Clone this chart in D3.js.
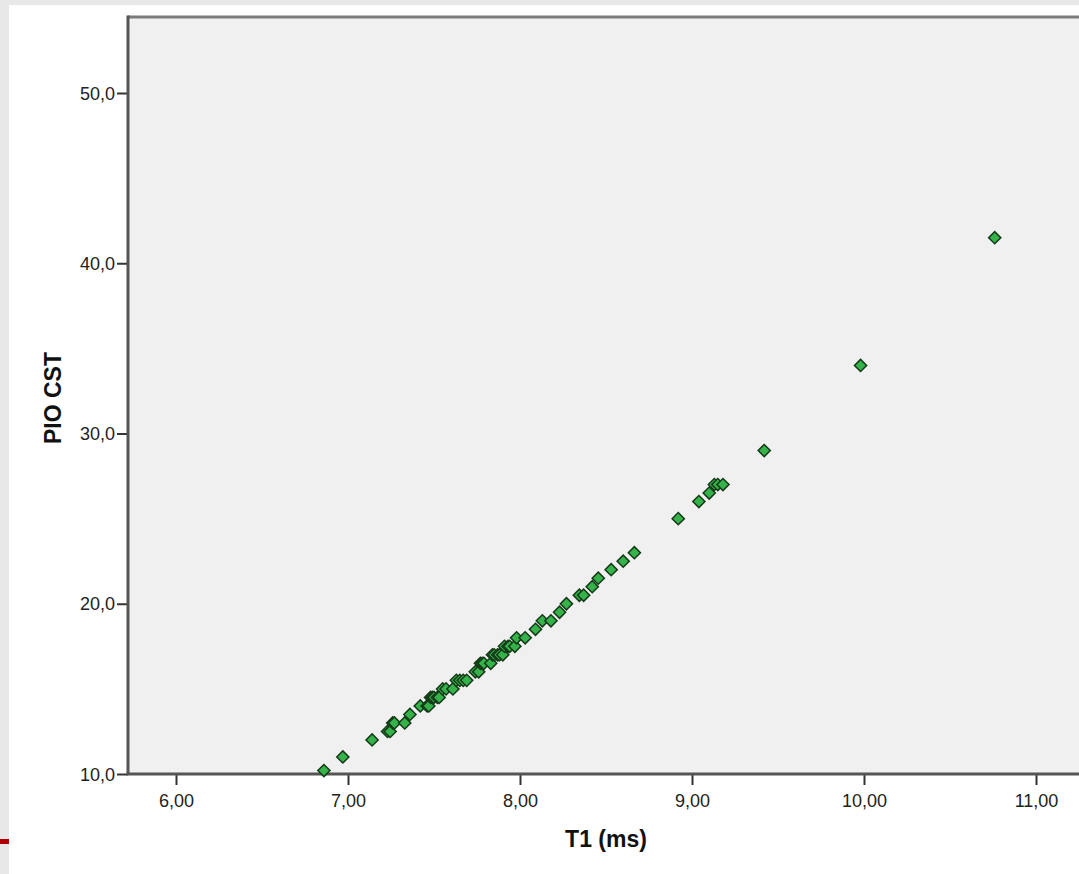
<!DOCTYPE html>
<html>
<head>
    <script src="https://cdnjs.cloudflare.com/ajax/libs/d3/7.8.5/d3.min.js"></script>
    <style>
        body { margin: 0; background: #e8e8e8; overflow: hidden; }
        svg { display: block; }
        .title { font-family: "Liberation Sans", Arial, sans-serif; font-size: 23px; font-weight: bold; fill: #111; }
    </style>
</head>
<body>
<svg id="chart"></svg>
<script>
// T1 (ms) vs PIO CST
const t1 = [6.86, 6.97, 7.14, 7.23, 7.245, 7.26, 7.27, 7.33, 7.36, 7.42, 7.46, 7.47,
    7.48, 7.49, 7.50, 7.52, 7.53, 7.55, 7.57, 7.61, 7.63, 7.65, 7.67, 7.69, 7.74, 7.76,
    7.77, 7.78, 7.79, 7.83, 7.84, 7.85, 7.87, 7.88, 7.90, 7.91, 7.93, 7.94, 7.97, 7.98,
    8.03, 8.09, 8.13, 8.18, 8.23, 8.27, 8.345, 8.37, 8.42, 8.455, 8.53, 8.60, 8.665,
    8.92, 9.04, 9.10, 9.13, 9.15, 9.18, 9.42, 9.98, 10.76];
const pio = [10.2, 11.0, 12.0, 12.5, 12.5, 13.0, 13.0, 13.0, 13.5, 14.0, 14.0, 14.0,
    14.5, 14.5, 14.5, 14.5, 14.5, 15.0, 15.0, 15.0, 15.5, 15.5, 15.5, 15.5, 16.0, 16.0,
    16.5, 16.5, 16.5, 16.5, 17.0, 17.0, 17.0, 17.0, 17.0, 17.5, 17.5, 17.5, 17.5, 18.0,
    18.0, 18.5, 19.0, 19.0, 19.5, 20.0, 20.5, 20.5, 21.0, 21.5, 22.0, 22.5, 23.0,
    25.0, 26.0, 26.5, 27.0, 27.0, 27.0, 29.0, 34.0, 41.5];
const xTicks = [6, 7, 8, 9, 10, 11];
const yTicks = [10, 20, 30, 40, 50];

const width = 1079, height = 874;
const svg = d3.select("#chart").attr("width", width).attr("height", height);

// white slide panel + little red accent
svg.append("rect").attr("x", 9).attr("y", 5).attr("width", width - 9).attr("height", height - 5).attr("fill", "#fff");
svg.append("rect").attr("x", 0).attr("y", 839).attr("width", 9).attr("height", 5).attr("fill", "#b00000");

const plotL = 128, plotT = 17, plotB = 774, plotR = 1095;
const x = d3.scaleLinear().domain([6, 11]).range([176, 1036]);
const y = d3.scaleLinear().domain([10, 50]).range([774, 93]);

const loc = d3.formatLocale({decimal: ",", thousands: ".", grouping: [3], currency: ["", ""]});

svg.append("rect")
    .attr("x", plotL).attr("y", plotT)
    .attr("width", plotR - plotL).attr("height", plotB - plotT)
    .attr("fill", "#f0f0f0");

svg.append("line").attr("x1", plotL).attr("x2", plotR).attr("y1", plotT).attr("y2", plotT)
    .attr("stroke", "#7a7a7a").attr("stroke-width", 3);

const xAxis = svg.append("g").attr("transform", `translate(0,${plotB})`)
    .call(d3.axisBottom(x).tickValues(xTicks).tickFormat(loc.format(".2f")).tickSize(11).tickSizeOuter(0));
const yAxis = svg.append("g").attr("transform", `translate(${plotL},0)`)
    .call(d3.axisLeft(y).tickValues(yTicks).tickFormat(loc.format(".1f")).tickSize(11).tickSizeOuter(0));

[xAxis, yAxis].forEach(a => {
    a.attr("font-family", "'Liberation Sans', Arial, sans-serif").attr("font-size", 18);
    a.select(".domain").remove();
    a.selectAll(".tick line").attr("stroke", "#333").attr("stroke-width", 2);
    a.selectAll(".tick text").attr("fill", "#222");
});
xAxis.selectAll(".tick text").attr("y", 14).attr("dy", "1.03em");
yAxis.selectAll(".tick text").attr("x", -13).attr("dy", "0.34em");

svg.append("line").attr("x1", plotL).attr("x2", plotL).attr("y1", plotT - 1.5).attr("y2", plotB)
    .attr("stroke", "#555").attr("stroke-width", 3);
svg.append("line").attr("x1", plotL - 1.5).attr("x2", plotR).attr("y1", plotB).attr("y2", plotB)
    .attr("stroke", "#555").attr("stroke-width", 3);

const pts = t1.map((v, i) => ({x: v, y: pio[i]}));
svg.append("g").selectAll("path")
    .data(pts)
    .join("path")
    .attr("d", d3.symbol(d3.symbolSquare, 74))
    .attr("transform", d => `translate(${x(d.x)},${y(d.y)}) rotate(45)`)
    .attr("fill", "#35b34a")
    .attr("stroke", "#143a18")
    .attr("stroke-width", 1.5);

svg.append("text").attr("class", "title")
    .attr("x", 606).attr("y", 847).attr("text-anchor", "middle").text("T1 (ms)");
svg.append("text").attr("class", "title")
    .attr("transform", "translate(61,398) rotate(-90)").attr("text-anchor", "middle").text("PIO CST");
</script>
</body>
</html>
